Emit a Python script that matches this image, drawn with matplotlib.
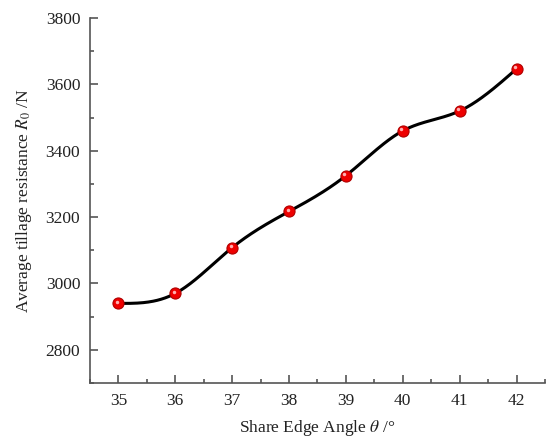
import numpy as np
import matplotlib.pyplot as plt
import matplotlib.transforms as mtransforms
from matplotlib.ticker import MultipleLocator

plt.rcParams['font.family'] = ['Liberation Serif', 'DejaVu Serif']
plt.rcParams['mathtext.fontset'] = 'stix'

angle = [35, 36, 37, 38, 39, 40, 41, 42]
resistance = [2940, 2970, 3108, 3217, 3325, 3460, 3520, 3647]


def natural_spline(x, y, n=400):
    # natural cubic spline through the measured points (smooth curve like Origin)
    x = np.asarray(x, float)
    y = np.asarray(y, float)
    k = len(x)
    h = np.diff(x)
    A = np.zeros((k, k))
    b = np.zeros(k)
    A[0, 0] = A[-1, -1] = 1
    for i in range(1, k - 1):
        A[i, i - 1] = h[i - 1]
        A[i, i] = 2 * (h[i - 1] + h[i])
        A[i, i + 1] = h[i]
        b[i] = 6 * ((y[i + 1] - y[i]) / h[i] - (y[i] - y[i - 1]) / h[i - 1])
    m = np.linalg.solve(A, b)
    xs = np.linspace(x[0], x[-1], n)
    idx = np.clip(np.searchsorted(x, xs) - 1, 0, k - 2)
    x0, x1 = x[idx], x[idx + 1]
    hh = x1 - x0
    t0, t1 = x1 - xs, xs - x0
    ys = (m[idx] * t0**3 + m[idx + 1] * t1**3) / (6 * hh) \
        + (y[idx] / hh - m[idx] * hh / 6) * t0 + (y[idx + 1] / hh - m[idx + 1] * hh / 6) * t1
    return xs, ys


fig = plt.figure(figsize=(5.55, 4.4), dpi=100)
ax = fig.add_axes([0.162, 0.1295, 0.82, 0.8295])

xs, ys = natural_spline(angle, resistance)
ax.plot(xs, ys, color='black', lw=2.2, zorder=2)
ax.plot(angle, resistance, 'o', ms=8, color='#ee0000', mec='#b00000', mew=0.8, zorder=3)
shift = mtransforms.ScaledTranslation(-1.5 / 100, 1.5 / 100, fig.dpi_scale_trans)
ax.plot(angle, resistance, 'o', ms=2.5, color='#ffb0b0', mew=0, zorder=4,
        transform=ax.transData + shift)

ax.set_xlim(34.5, 42.5)
ax.set_ylim(2700, 3800)
ax.xaxis.set_major_locator(MultipleLocator(1))
ax.xaxis.set_minor_locator(MultipleLocator(0.5))
ax.yaxis.set_major_locator(MultipleLocator(200))
ax.yaxis.set_minor_locator(MultipleLocator(100))

for s in ['top', 'right']:
    ax.spines[s].set_visible(False)
for s in ['left', 'bottom']:
    ax.spines[s].set_color('#555555')
    ax.spines[s].set_linewidth(1.2)
ax.tick_params(which='both', direction='in', color='#555555', width=1.2,
               labelsize=12.5, labelcolor='#222222')
ax.tick_params(which='major', length=6, pad=7)
ax.tick_params(which='minor', length=3)

ax.set_xlabel(r'Share Edge Angle $\theta$ /°', fontsize=12.5, color='#222222', labelpad=7)
ax.set_ylabel(r'Average tillage resistance $R_0$ /N', fontsize=12.5, color='#222222', labelpad=8)

fig.savefig('out.png', dpi=100)
